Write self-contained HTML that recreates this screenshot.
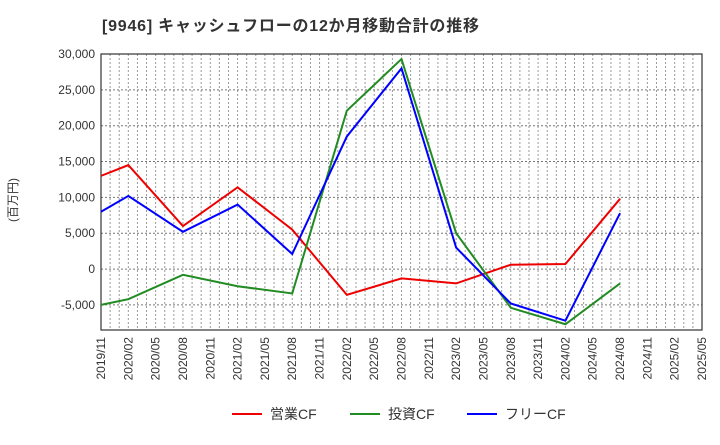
<!DOCTYPE html>
<html><head><meta charset="utf-8"><style>
body{margin:0;background:#fff;font-family:"Liberation Sans","Noto Sans CJK JP",sans-serif}
</style></head><body>
<svg id="c" width="720" height="440" xmlns="http://www.w3.org/2000/svg">
<text x="102" y="31" font-size="16" font-weight="bold" fill="#333" textLength="377" lengthAdjust="spacing" font-family="Liberation Sans,Noto Sans CJK JP,sans-serif">[9946]  キャッシュフローの12か月移動合計の推移</text>
<text transform="translate(17,200) rotate(-90)" text-anchor="middle" font-size="12" fill="#333" font-family="Liberation Sans,Noto Sans CJK JP,sans-serif">(百万円)</text>
<g id="grid"></g><g id="axes"></g><g id="series"></g>
<g font-size="14" fill="#333" font-family="Liberation Sans,Noto Sans CJK JP,sans-serif">
<line x1="232" y1="414" x2="262" y2="414" stroke="#e00" stroke-width="2"/><text x="270" y="419">営業CF</text>
<line x1="350" y1="414" x2="380" y2="414" stroke="#228b22" stroke-width="2"/><text x="388" y="419">投資CF</text>
<line x1="467" y1="414" x2="497" y2="414" stroke="#00f" stroke-width="2"/><text x="505" y="419">フリーCF</text>
</g>
</svg>
<script>
const tickLabels=["2019/11","2020/02","2020/05","2020/08","2020/11","2021/02","2021/05","2021/08","2021/11","2022/02","2022/05","2022/08","2022/11","2023/02","2023/05","2023/08","2023/11","2024/02","2024/05","2024/08","2024/11","2025/02","2025/05"];
const yTicks=[-5000,0,5000,10000,15000,20000,25000,30000];
const dates=["2019/11","2020/02","2020/08","2021/02","2021/08","2022/02","2022/08","2023/02","2023/08","2024/02","2024/08"];
const operatingCF=[13000,14500,6000,11400,5500,-3600,-1300,-2000,600,700,9800];
const investingCF=[-5000,-4200,-800,-2400,-3400,22100,29300,5000,-5400,-7700,-2000];
const freeCF=[8000,10200,5200,9000,2100,18500,28000,3000,-4800,-7200,7800];
const L=101,R=702,T=54,B=330,yMin=-8500,yMax=30000;
const NS="http://www.w3.org/2000/svg";
function mIdx(s){const[y,m]=s.split("/").map(Number);return (y-2019)*12+m-11;}
const x=s=>L+(R-L)*mIdx(s)/66;
const y=v=>T+(B-T)*(yMax-v)/(yMax-yMin);
function mk(t,a,p){const e=document.createElementNS(NS,t);for(const k in a)e.setAttribute(k,a[k]);p.appendChild(e);return e;}
const g=document.getElementById("grid"),ax=document.getElementById("axes"),se=document.getElementById("series");
for(let i=1;i<66;i++){const xx=L+(R-L)*i/66;
const l=mk("line",{x1:xx,x2:xx,y1:T,y2:B,stroke:"#999","stroke-dasharray":"2,2","stroke-width":1},g);

}
yTicks.forEach(v=>{const l=mk("line",{x1:L,x2:R,y1:y(v),y2:y(v),stroke:"#777","stroke-dasharray":"2,2","stroke-width":1},g);


const t=mk("text",{x:L-6,y:y(v)+4,"text-anchor":"end","font-size":12,fill:"#333"},ax);t.textContent=v.toLocaleString("en-US");

});
const fr=mk("rect",{x:L,y:T,width:R-L,height:B-T,fill:"none",stroke:"#333","stroke-width":1.2},ax);


tickLabels.forEach(s=>{const xx=x(s);const t=mk("text",{transform:`translate(${xx+4},${B+7}) rotate(-90)`,"text-anchor":"end","font-size":12,fill:"#333"},ax);t.textContent=s;

});
[[operatingCF,"#e00","operating-cf-line"],[investingCF,"#228b22","investing-cf-line"],[freeCF,"#00f","free-cf-line"]].forEach(([d,c,n])=>{
const p=mk("polyline",{points:d.map((v,i)=>x(dates[i])+","+y(v)).join(" "),fill:"none",stroke:c,"stroke-width":2},se);

});
</script>
</body></html>
